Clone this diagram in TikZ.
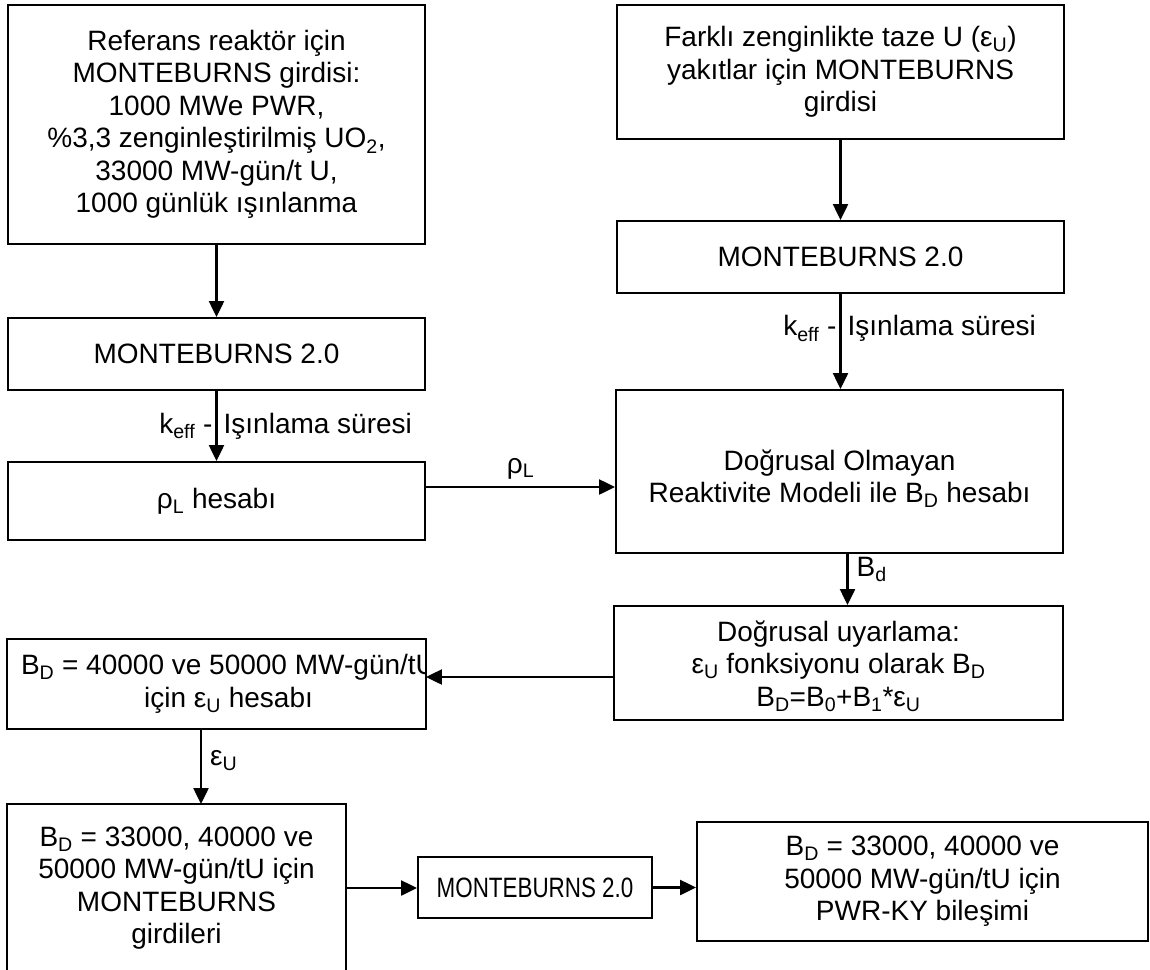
\documentclass[tikz,border=0pt]{standalone}
\usepackage{fontspec}
\setmainfont{Liberation Sans}
\newfontfamily\narrowfont[FakeStretch=0.8]{Liberation Sans}
\usetikzlibrary{arrows.meta}
\begin{document}
\begin{tikzpicture}[x=1pt,y=-1pt,
  box/.style={draw, line width=1.9pt, align=center, font=\fontsize{28}{32.5}\selectfont, inner sep=0pt},
  arr/.style={line width=2.3pt, -{Triangle[length=16pt,width=15pt]}},
  lbl/.style={font=\fontsize{28}{32.5}\selectfont, inner sep=0pt, align=center}]
\useasboundingbox (0,0) rectangle (1150,969);

\node[box, minimum width=417pt, minimum height=239pt] (A) at (216.5,124.5)
  {Referans reaktör için\\MONTEBURNS girdisi:\\1000 MWe PWR,\\\%3,3 zenginleştirilmiş UO\textsubscript{2},\\33000 MW-gün/t U,\\1000 günlük ışınlanma};
\node[box, minimum width=417pt, minimum height=72pt] (B) at (216.5,354) {MONTEBURNS 2.0};
\node[box, minimum width=417pt, minimum height=78pt] (C) at (216.5,501) {ρ\textsubscript{L} hesabı};
\node[box, minimum width=447pt, minimum height=163pt] (D) at (839.5,471.5) {};
\node[lbl] (Dt) at ([yshift=-7pt]D.center)
  {Doğrusal Olmayan\\Reaktivite Modeli ile B\textsubscript{D} hesabı};
\node[box, minimum width=447pt, minimum height=134pt] (E) at (840.5,72)
  {Farklı zenginlikte taze U (ε\textsubscript{U})\\yakıtlar için MONTEBURNS\\girdisi};
\node[box, minimum width=447pt, minimum height=72pt] (F) at (840.5,257) {MONTEBURNS 2.0};
\node[box, minimum width=449pt, minimum height=114pt] (G) at (838.5,663) {};
\node[lbl] (Gt) at ([yshift=-3pt]G.center)
  {Doğrusal uyarlama:\\ε\textsubscript{U} fonksiyonu olarak B\textsubscript{D}\\B\textsubscript{D}=B\textsubscript{0}+B\textsubscript{1}*ε\textsubscript{U}};
\node[box, draw=none, minimum width=417pt, minimum height=88pt] (H) at (216.5,684) {};
\begin{scope}
  \clip (H.south west) rectangle (H.north east);
  \node[lbl] (Ht) at ([xshift=12pt]H.center)
    {B\textsubscript{D} = 40000 ve 50000 MW-gün/tU\\için ε\textsubscript{U} hesabı};
\end{scope}
\draw[line width=1.9pt] (H.south west) rectangle (H.north east);
\node[box, draw=none, minimum width=337pt, minimum height=166pt] (I) at (176.5,888)
  {B\textsubscript{D} = 33000, 40000 ve\\50000 MW-gün/tU için\\MONTEBURNS\\girdileri};
\draw[line width=1.9pt] (I.south west) |- (I.north east) -- (I.south east);
\node[box, minimum width=234pt, minimum height=61pt, font=\narrowfont\fontsize{28}{32}\selectfont] (J) at (535,887.5) {MONTEBURNS 2.0};
\node[box, minimum width=451pt, minimum height=119pt] (K) at (922.5,881.5)
  {B\textsubscript{D} = 33000, 40000 ve\\50000 MW-gün/tU için\\PWR-KY bileşimi};

\draw[arr] (A.south) -- (B.north);
\draw[arr] (B.south) -- (C.north)
  node[pos=0.5, lbl, anchor=east, xshift=-3pt] {k\textsubscript{eff} -}
  node[pos=0.5, lbl, anchor=west, xshift=6pt] {Işınlama süresi};
\draw[arr] ([yshift=14pt]C.east) -- ([yshift=14pt]C.east -| D.west)
  node[midway, lbl, above=7pt] {ρ\textsubscript{L}};
\draw[arr] (E.south) -- (F.north);
\draw[arr] (F.south) -- (F.south |- D.north)
  node[pos=0.36, lbl, anchor=east, xshift=-3pt] {k\textsubscript{eff} -}
  node[pos=0.36, lbl, anchor=west, xshift=6pt] {Işınlama süresi};
\draw[arr] ([xshift=8pt]D.south) -- ([xshift=8pt]D.south |- G.north)
  node[pos=0.3, lbl, anchor=west, xshift=8pt] {B\textsubscript{d}};
\draw[arr] ([yshift=-14pt]G.west) -- ([yshift=-14pt]G.west -| H.east);
\draw[arr] ([xshift=-15.5pt]H.south) -- ([xshift=-15.5pt]H.south |- I.north)
  node[pos=0.42, lbl, anchor=west, xshift=8pt] {ε\textsubscript{U}};
\draw[arr] (I.east) -- (I.east -| J.west);
\draw[arr] (J.east) -- (J.east -| K.west);
\end{tikzpicture}
\end{document}
